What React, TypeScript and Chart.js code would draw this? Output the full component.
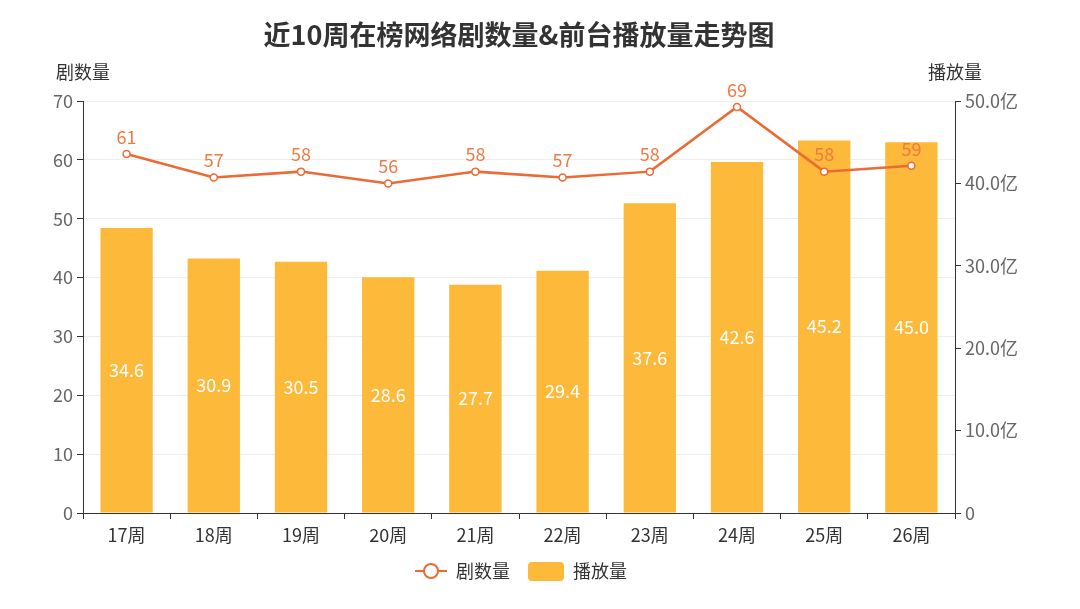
import { useEffect, useRef } from "react"
import { Chart, registerables } from "chart.js"

Chart.register(...registerables)

const weeks = ["17周", "18周", "19周", "20周", "21周", "22周", "23周", "24周", "25周", "26周"]
const dramaCount = [61, 57, 58, 56, 58, 57, 58, 69, 58, 59]
const playVolume = [34.6, 30.9, 30.5, 28.6, 27.7, 29.4, 37.6, 42.6, 45.2, 45.0]

const FONT = "'Noto Sans CJK SC', 'Noto Sans', sans-serif"
const LINE_COLOR = "#ec6a34"
const LABEL_ORANGE = "#ee7b45"
const BAR_COLOR = "#fdb93a"

// labels, axis names, title and legend drawn by hand
const decorPlugin = {
  id: "decor",
  afterDatasetsDraw(chart: any) {
    const ctx = chart.ctx
    ctx.save()
    ctx.textAlign = "center"
    ctx.textBaseline = "middle"
    ctx.font = `18px ${FONT}`

    const barMeta = chart.getDatasetMeta(1)
    barMeta.data.forEach((bar: any, i: number) => {
      ctx.fillStyle = "#ffffff"
      ctx.fillText(playVolume[i].toFixed(1), bar.x, (bar.y + bar.base) / 2)
    })

    const lineMeta = chart.getDatasetMeta(0)
    lineMeta.data.forEach((pt: any, i: number) => {
      ctx.fillStyle = LABEL_ORANGE
      ctx.fillText(String(dramaCount[i]), pt.x, pt.y - 17)
    })
    ctx.restore()
  },
  afterDraw(chart: any) {
    const ctx = chart.ctx
    const area = chart.chartArea
    ctx.save()
    ctx.textAlign = "center"
    ctx.textBaseline = "middle"

    ctx.fillStyle = "#333"
    ctx.font = `bold 27px ${FONT}`
    ctx.fillText("近10周在榜网络剧数量&前台播放量走势图", (area.left + area.right) / 2, 35)

    ctx.font = `18px ${FONT}`
    ctx.fillText("剧数量", area.left, 72)
    ctx.fillText("播放量", area.right, 72)

    // legend
    const ly = 571
    ctx.strokeStyle = LINE_COLOR
    ctx.lineWidth = 2
    ctx.beginPath()
    ctx.moveTo(415, ly)
    ctx.lineTo(447, ly)
    ctx.stroke()
    ctx.beginPath()
    ctx.arc(431, ly, 7, 0, Math.PI * 2)
    ctx.fillStyle = "#fff"
    ctx.fill()
    ctx.stroke()
    ctx.fillStyle = "#333"
    ctx.textAlign = "left"
    ctx.fillText("剧数量", 456, ly)

    ctx.fillStyle = BAR_COLOR
    ctx.beginPath()
    ctx.roundRect(528, 562, 36, 19, 4)
    ctx.fill()
    ctx.fillStyle = "#333"
    ctx.fillText("播放量", 573, ly)
    ctx.restore()
  },
}

export default function App() {
  const chartRef = useRef<HTMLCanvasElement>(null)
  const chartInstance = useRef<Chart | null>(null)

  useEffect(() => {
    document.body.style.margin = "0"
    if (!chartRef.current) return
    if (chartInstance.current) chartInstance.current.destroy()
    const ctx = chartRef.current.getContext("2d")
    if (!ctx) return

    const config: any = {
      type: "bar",
      data: {
        labels: weeks,
        datasets: [
          {
            type: "line",
            label: "剧数量",
            data: dramaCount,
            yAxisID: "y",
            borderColor: LINE_COLOR,
            borderWidth: 2.5,
            pointRadius: 3.5,
            pointBackgroundColor: "#fff",
            pointBorderColor: LINE_COLOR,
            pointBorderWidth: 1.5,
            tension: 0,
          },
          {
            type: "bar",
            label: "播放量",
            data: playVolume,
            yAxisID: "y1",
            backgroundColor: BAR_COLOR,
            barPercentage: 0.6,
            categoryPercentage: 1,
          },
        ],
      },
      options: {
        responsive: false,
        animation: false,
        layout: { padding: { top: 101, left: 0, right: 0, bottom: 0 } },
        plugins: {
          legend: { display: false },
          tooltip: { enabled: false },
        },
        scales: {
          x: {
            offset: true,
            afterFit: (s: any) => { s.height = 96 },
            grid: {
              offset: true,
              drawOnChartArea: false,
              tickLength: 6,
              tickColor: "#333",
            },
            border: { color: "#333", width: 1 },
            ticks: { color: "#333", font: { size: 18, family: FONT }, padding: 5 },
          },
          y: {
            position: "left",
            min: 0,
            max: 70,
            afterFit: (s: any) => { s.width = 83 },
            grid: { color: "#eeeeee", tickColor: "#333", tickLength: 6 },
            border: { color: "#333", width: 1 },
            ticks: { stepSize: 10, color: "#666", font: { size: 18, family: FONT }, padding: 4 },
          },
          y1: {
            position: "right",
            min: 0,
            max: 50,
            afterFit: (s: any) => { s.width = 125 },
            grid: { drawOnChartArea: false, tickColor: "#333", tickLength: 6 },
            border: { color: "#333", width: 1 },
            ticks: {
              stepSize: 10,
              color: "#666",
              font: { size: 18, family: FONT },
              padding: 4,
              callback: (v: number) => (v === 0 ? "0" : v.toFixed(1) + "亿"),
            },
          },
        },
      },
      plugins: [decorPlugin],
    }

    chartInstance.current = new Chart(ctx, config)
    return () => {
      if (chartInstance.current) chartInstance.current.destroy()
    }
  }, [])

  return (
    <div style={{ width: 1080, height: 609, background: "#fff" }}>
      <canvas ref={chartRef} width={1080} height={609} />
    </div>
  )
}
